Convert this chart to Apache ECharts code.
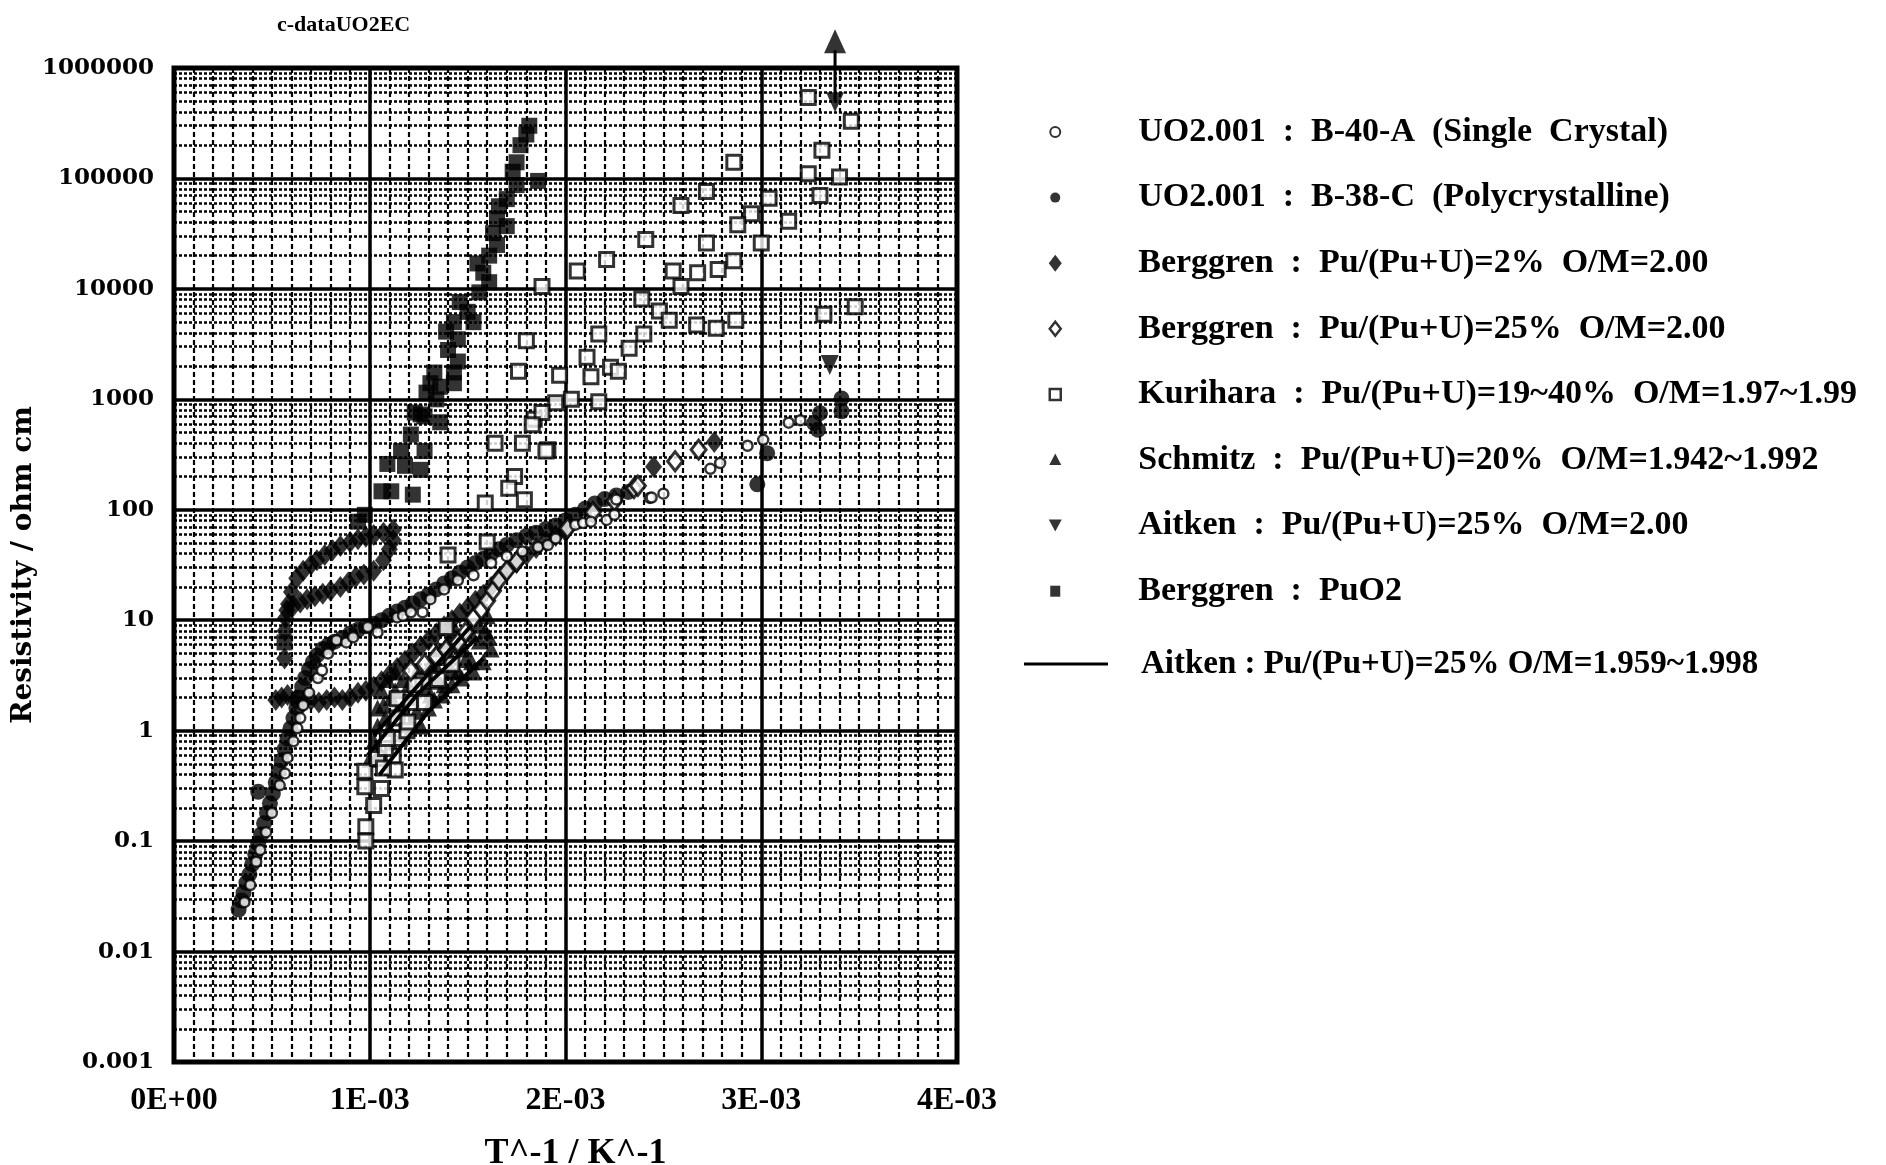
<!DOCTYPE html>
<html><head><meta charset="utf-8">
<script src="https://cdn.jsdelivr.net/npm/echarts@6/dist/echarts.min.js"></script>
<style>html,body{margin:0;padding:0;background:#fff}#c{width:1886px;height:1165px}</style>
</head><body><div id="c"></div>
<script>
// ---- tick labels ----
const xTickLabels = ['0E+00', '1E-03', '2E-03', '3E-03', '4E-03'];
const yTickLabels = ['0.001', '0.01', '0.1', '1', '10', '100', '1000', '10000', '100000', '1000000'];

// ---- series names ----
const nameSingle = 'UO2.001  :  B-40-A  (Single  Crystal)';
const namePoly = 'UO2.001  :  B-38-C  (Polycrystalline)';
const nameBerg2 = 'Berggren  :  Pu/(Pu+U)=2%  O/M=2.00';
const nameBerg25 = 'Berggren  :  Pu/(Pu+U)=25%  O/M=2.00';
const nameKuri = 'Kurihara  :  Pu/(Pu+U)=19~40%  O/M=1.97~1.99';
const nameSchmitz = 'Schmitz  :  Pu/(Pu+U)=20%  O/M=1.942~1.992';
const nameAitkenPt = 'Aitken  :  Pu/(Pu+U)=25%  O/M=2.00';
const namePuO2 = 'Berggren  :  PuO2';
const nameAitkenLine = 'Aitken : Pu/(Pu+U)=25% O/M=1.959~1.998';

// ---- data: [1/T in units of 1E-03 K^-1, resistivity ohm cm] ----
const singleCrystal = [[0.36,0.028],[0.39,0.040],[0.42,0.065],[0.44,0.083],[0.47,0.12],[0.50,0.18],[0.54,0.32],[0.567,0.41],[0.58,0.57],[0.61,0.80],[0.63,1.05],[0.645,1.3],[0.66,1.7],[0.69,2.2],[0.735,3.0],[0.756,3.5],[0.787,5.0],[0.83,6.6],[0.88,6.3],[0.915,7.0],[0.99,8.7],[1.04,7.8],[1.14,10.6],[1.17,11],[1.21,11.8],[1.27,11.8],[1.31,15.5],[1.38,19],[1.45,23],[1.53,25.5],[1.62,33],[1.70,38],[1.78,42],[1.86,46],[1.91,48],[1.95,55],[2.05,73],[2.09,76],[2.13,78],[2.21,81],[2.25,90],[2.43,128],[2.26,124],[2.44,129],[2.50,140],[2.74,235],[2.79,265],[2.93,380],[3.01,430],[3.14,615],[3.20,645]];

const polycrystal = [[0.33,0.024],[0.345,0.029],[0.355,0.034],[0.37,0.042],[0.385,0.05],[0.40,0.062],[0.415,0.076],[0.43,0.095],[0.43,0.28],[0.445,0.115],[0.46,0.145],[0.475,0.18],[0.49,0.22],[0.505,0.27],[0.52,0.34],[0.535,0.43],[0.55,0.54],[0.565,0.68],[0.58,0.85],[0.595,1.05],[0.61,1.3],[0.625,1.6],[0.64,2.0],[0.655,2.5],[0.67,3.0],[0.69,3.6],[0.71,4.2],[0.73,4.8],[0.76,5.5],[0.79,6.0],[0.82,6.4],[0.86,6.9],[0.90,7.6],[0.94,8.2],[0.98,8.8],[1.02,9.3],[1.06,10],[1.10,11],[1.14,12],[1.18,13],[1.22,14.2],[1.26,15.5],[1.30,17],[1.34,19],[1.38,21.5],[1.42,24],[1.46,27],[1.50,30],[1.54,33],[1.58,36],[1.62,40],[1.66,44],[1.70,48],[1.75,53],[1.80,58],[1.85,62],[1.90,67],[1.95,72],[2.00,80],[2.05,90],[2.10,102],[2.15,114],[2.20,125],[2.26,135],[2.32,145],[2.98,170],[3.03,325],[3.27,610],[3.30,750],[3.41,1020],[3.41,780],[3.29,530]];

const berggren2 = [[0.585,14],[0.60,18],[0.627,24],[0.66,28],[0.70,32],[0.73,35],[0.77,39],[0.81,43],[0.85,47],[0.90,51],[0.94,54],[0.98,57],[1.02,59],[1.07,62],[1.12,66],
  [0.576,12.3],[0.61,13.5],[0.645,14.5],[0.68,15.5],[0.72,16.5],[0.76,17.4],[0.80,18.5],[0.85,20],[0.89,22],[0.93,24.7],[0.97,26],[1.02,28],[1.07,35],[1.10,44],[1.12,53],
  [0.565,4.5],[0.567,8],[0.57,10.5],
  [0.52,1.9],[0.55,2.0],[0.58,2.1],[0.62,1.9],[0.66,1.8],[0.70,1.9],[0.74,1.8],[0.78,1.9],[0.82,2.0],[0.86,1.9],[0.90,2.0],[0.94,2.2],
  [0.98,2.3],[1.02,2.5],[1.06,2.8],[1.10,3.2],[1.14,3.7],[1.18,4.3],[1.22,5.0],[1.26,5.8],[1.30,6.6],[1.34,7.6],[1.38,8.8],[1.42,10],[1.46,11.5],[1.50,13],[1.54,15],[1.58,17],[1.62,20],[1.66,24],[1.70,28],[1.75,33],[1.80,39],[1.85,45],[1.90,52],[1.95,58],[2.0,64],
  [2.45,245],[2.76,410]];

const berggren25 = [[1.21,3.5],[1.28,4.0],[1.34,4.7],[1.39,5.4],[1.45,6.3],[1.49,7.8],[1.53,10.5],[1.57,12.5],[1.60,15],[1.63,18.5],[1.66,23],[1.70,28],[1.75,34],[2.01,68],[2.14,95],[2.25,120],[2.35,157],[2.37,165],[2.56,275],[2.68,350]];

const kurihara = [[3.24,5.4e5],[3.46,3.3e5],[3.31,1.8e5],[3.24,1.1e5],[3.40,1.03e5],[3.30,7.0e4],[2.86,1.4e5],[3.04,6.6e4],[3.14,4.1e4],[2.95,4.8e4],[2.88,3.8e4],[3.00,2.6e4],[2.72,7.6e4],[2.59,5.7e4],[2.72,2.6e4],[2.41,2.8e4],[2.21,1.85e4],[2.06,1.45e4],[1.88,1.05e4],[2.86,1.8e4],[2.78,1.5e4],[2.675,1.4e4],[2.55,1.45e4],[2.59,1.05e4],
  [2.39,8.1e3],[2.48,6.3e3],[2.53,5.2e3],[2.67,4.7e3],[2.77,4.4e3],[2.87,5.2e3],[3.32,5.9e3],[3.48,6.9e3],[2.40,3.9e3],[2.17,3.9e3],[2.325,2.9e3],[2.11,2.4e3],[2.23,1.95e3],[2.27,1.8e3],[2.13,1.6e3],[1.97,1.65e3],[2.03,1.0e3],[2.17,950],[1.95,930],[1.91,350],[1.80,3.4e3],[1.76,1.8e3],[1.84,660],[1.88,760],[1.83,590],[1.78,400],[1.90,340],[1.64,400],[1.74,200],[1.71,157],[1.79,123],[1.59,115],[1.40,39],[1.60,51],
  [0.975,0.43],[0.975,0.31],[1.06,0.30],[1.02,0.21],[0.98,0.135],[0.98,0.10],[1.04,0.56],[1.12,0.59],[1.13,0.44],[1.07,0.46],[1.08,0.69],[1.15,0.85],[1.09,0.85],[1.14,1.3],[1.19,1.0],[1.195,1.2],[1.14,1.95],[1.21,1.8],[1.28,1.8],[1.27,2.8],[1.35,2.9],[1.42,4.0],[1.39,8.6],[1.23,2.6]];

const schmitz = [[1.00,0.55],[1.02,0.8],[1.04,1.1],[1.05,0.65],[1.07,1.7],[1.08,1.3],[1.10,1.05],[1.11,2.0],[1.13,2.3],[1.14,1.5],[1.17,1.6],[1.17,2.9],[1.20,2.6],[1.21,2.0],[1.24,1.5],[1.24,3.4],[1.27,3.2],[1.28,2.4],[1.31,2.1],[1.31,4.0],[1.34,3.8],[1.35,2.8],[1.38,2.6],[1.38,4.6],[1.41,4.8],[1.42,3.5],[1.45,3.4],[1.45,6.0],[1.48,5.5],[1.49,4.4],[1.52,4.2],[1.52,7.5],[1.56,6.5],[1.56,9.0],[1.59,8.0],[1.60,11],
  [1.04,1.6],[1.06,2.3],[1.09,2.9],[1.13,3.4],[1.17,0.95],[1.21,1.15],[1.26,1.1],[1.30,1.6],[1.33,1.9],[1.37,2.1],[1.42,2.6],[1.47,3.0],[1.53,3.4],[1.58,4.2],[1.62,5.5],[1.61,7.0],[1.44,8.0],[1.40,6.5],[1.35,5.5]];

const aitkenPoints = [[3.35,2050],[3.377,4.9e5]];

const puo2 = [[1.815,3.0e5],[1.80,2.5e5],[1.77,2.0e5],[1.75,1.4e5],[1.73,1.15e5],[1.86,9.5e4],[1.75,8.7e4],[1.70,6.5e4],[1.66,5.6e4],[1.65,4.3e4],[1.70,3.7e4],[1.63,3.2e4],[1.65,2.5e4],[1.61,2.0e4],[1.55,1.7e4],[1.58,1.4e4],[1.61,1.15e4],[1.56,9.3e3],[1.46,7.6e3],[1.50,6.2e3],[1.43,5.0e3],[1.53,5.0e3],[1.39,4.1e3],[1.45,3.5e3],[1.40,2.8e3],[1.45,2.2e3],[1.43,1.75e3],[1.33,1.75e3],[1.31,1.4e3],[1.36,1.3e3],[1.43,1.4e3],[1.29,1.15e3],[1.34,1.0e3],[1.26,730],[1.23,760],[1.28,700],[1.36,620],[1.21,480],[1.16,340],[1.28,340],[1.09,260],[1.18,250],[1.26,230],[1.06,147],[1.11,147],[1.22,137],[0.975,90],[0.94,78],[0.565,6.3]];

const aitkenLineA = [[0.99,0.6],[1.25,2.2],[1.55,7]];
const aitkenLineB = [[1.05,0.4],[1.30,1.5],[1.58,4.5]];
const aitkenLineC = [[1.02,0.9],[1.28,3.0],[1.52,9]];

const arrowStem = [[3.377,4.9e5],[3.377,1.45e6]];
const arrowHead = [[3.377,1.75e6]];

// ---- chart ----
const X = a => a.map(p => [p[0] * 1e-3, p[1]]);
const BLACK = '#000';
const openItem = w => ({ color: '#fff', borderColor: BLACK, borderWidth: w });
const serifBold = (size) => ({ fontFamily: 'Liberation Serif', fontWeight: 'bold', fontSize: size, color: BLACK });
// legend icons drawn in a 20x20 frame (first two moves only fix the frame)
const FR = 'path://M0,0M20,20';
const icCircle = FR + 'M15,10A5,5,0,1,1,5,10A5,5,0,1,1,15,10Z';
const icDiamondF = FR + 'M10,1.5L16.5,10L10,18.5L3.5,10Z';
const icDiamondO = FR + 'M10,3L15.5,10L10,17L4.5,10Z';
const icSquareO = FR + 'M4.5,4.5L15.5,4.5L15.5,15.5L4.5,15.5Z';
const icSquareF = FR + 'M5,4.5L15,4.5L15,15.5L5,15.5Z';
const icTriUp = FR + 'M10,3.5L16,15L4,15Z';
const icTriDown = FR + 'M3.5,4L16.5,4L10,16Z';

const chart = echarts.init(document.getElementById('c'), null, { renderer: 'canvas', width: 1886, height: 1165 });

const option = {
  animation: false,
  backgroundColor: '#fff',
  title: { text: 'c-dataUO2EC', left: 272, top: 9, textStyle: serifBold(22) },
  grid: { left: 174, top: 68, right: 929, bottom: 103, containLabel: false, outerBoundsMode: 'none',
    show: true, borderColor: BLACK, borderWidth: 5, backgroundColor: 'transparent' },
  xAxis: {
    type: 'value', min: 0, max: 0.004, interval: 0.001,
    axisLine: { show: false }, axisTick: { show: false },
    axisLabel: { formatter: v => xTickLabels[Math.round(v / 0.001)], margin: 23, ...serifBold(32) },
    splitLine: { show: true, lineStyle: { color: BLACK, width: 3.5 } },
    minorTick: { show: false, splitNumber: 10 },
    minorSplitLine: { show: true, lineStyle: { color: BLACK, width: 2.2, type: [5, 3] } },
    name: 'T^-1 / K^-1', nameLocation: 'middle', nameGap: 74,
    nameTextStyle: { ...serifBold(36), padding: [0, 0, 0, 20] }
  },
  yAxis: {
    type: 'log', logBase: 10, min: 0.001, max: 1000000,
    axisLine: { show: false }, axisTick: { show: false },
    axisLabel: { formatter: v => yTickLabels[Math.round(Math.log10(v)) + 3], margin: 20, fontFamily: 'DejaVu Serif', fontWeight: 'bold', fontSize: 23, color: BLACK, padding: [5, 0, 0, 0] },
    splitLine: { show: true, lineStyle: { color: BLACK, width: 3.5 } },
    minorTick: { show: false, splitNumber: 9 },
    minorSplitLine: { show: true, lineStyle: { color: BLACK, width: 2.5, type: [3, 2] } },
    name: 'Resistivity / ohm cm', nameLocation: 'middle', nameGap: 133,
    nameTextStyle: { fontFamily: 'DejaVu Serif', fontWeight: 'bold', fontSize: 28, color: BLACK }
  },
  legend: [
    {
      orient: 'vertical', left: 1039, top: 107, itemWidth: 20, itemHeight: 20, itemGap: 25.6, selectedMode: false,
      textStyle: { ...serifBold(34), lineHeight: 40, padding: [0, 0, 0, 68] },
      data: [
        { name: nameSingle, icon: icCircle, itemStyle: openItem(2) },
        { name: namePoly, icon: icCircle, itemStyle: { color: BLACK, borderWidth: 0 } },
        { name: nameBerg2, icon: icDiamondF, itemStyle: { color: BLACK, borderWidth: 0 } },
        { name: nameBerg25, icon: icDiamondO, itemStyle: openItem(2.5) },
        { name: nameKuri, icon: icSquareO, itemStyle: openItem(2.5) },
        { name: nameSchmitz, icon: icTriUp, itemStyle: { color: BLACK, borderWidth: 0 } },
        { name: nameAitkenPt, icon: icTriDown, itemStyle: { color: BLACK, borderWidth: 0 } },
        { name: namePuO2, icon: icSquareF, itemStyle: { color: BLACK, borderWidth: 0 } }
      ]
    },
    {
      orient: 'vertical', left: 1019, top: 639, itemWidth: 84, itemHeight: 3, selectedMode: false,
      textStyle: { ...serifBold(33), lineHeight: 40, padding: [0, 0, 0, 28] },
      data: [{ name: nameAitkenLine, icon: 'rect', itemStyle: { color: BLACK, borderWidth: 0 } }]
    }
  ],
  series: [
    { name: nameAitkenLine, type: 'line', data: X(aitkenLineA), symbol: 'none', lineStyle: { color: BLACK, width: 4 }, itemStyle: { color: BLACK } },
    { name: nameAitkenLine, type: 'line', data: X(aitkenLineB), symbol: 'none', lineStyle: { color: BLACK, width: 4 }, itemStyle: { color: BLACK } },
    { name: nameAitkenLine, type: 'line', data: X(aitkenLineC), symbol: 'none', lineStyle: { color: BLACK, width: 4 }, itemStyle: { color: BLACK } },
    { name: nameBerg2, type: 'scatter', symbol: 'diamond', symbolSize: [17, 22], itemStyle: { color: BLACK }, data: X(berggren2) },
    { name: namePoly, type: 'scatter', symbol: 'circle', symbolSize: 16, itemStyle: { color: BLACK }, data: X(polycrystal) },
    { name: namePuO2, type: 'scatter', symbol: 'rect', symbolSize: 16, itemStyle: { color: BLACK }, data: X(puo2) },
    { name: nameSchmitz, type: 'scatter', symbol: 'triangle', symbolSize: 17, itemStyle: { color: BLACK }, data: X(schmitz) },
    { name: nameAitkenPt, type: 'scatter', symbol: 'triangle', symbolRotate: 180, symbolSize: [18, 20], itemStyle: { color: BLACK }, data: X(aitkenPoints) },
    { name: nameKuri, type: 'scatter', symbol: 'rect', symbolSize: 14, itemStyle: openItem(3), data: X(kurihara) },
    { name: nameBerg25, type: 'scatter', symbol: 'diamond', symbolSize: [15, 19], itemStyle: openItem(3), data: X(berggren25) },
    { name: nameSingle, type: 'scatter', symbol: 'circle', symbolSize: 10, itemStyle: openItem(2.5), data: X(singleCrystal) },
    { name: 'arrowStem', type: 'line', data: X(arrowStem), symbol: 'none', clip: false, lineStyle: { color: BLACK, width: 3 } },
    { name: 'arrowHead', type: 'scatter', data: X(arrowHead), symbol: 'triangle', symbolSize: [22, 24], clip: false, itemStyle: { color: BLACK } }
  ]
};
chart.setOption(option);
</script>
</body></html>
